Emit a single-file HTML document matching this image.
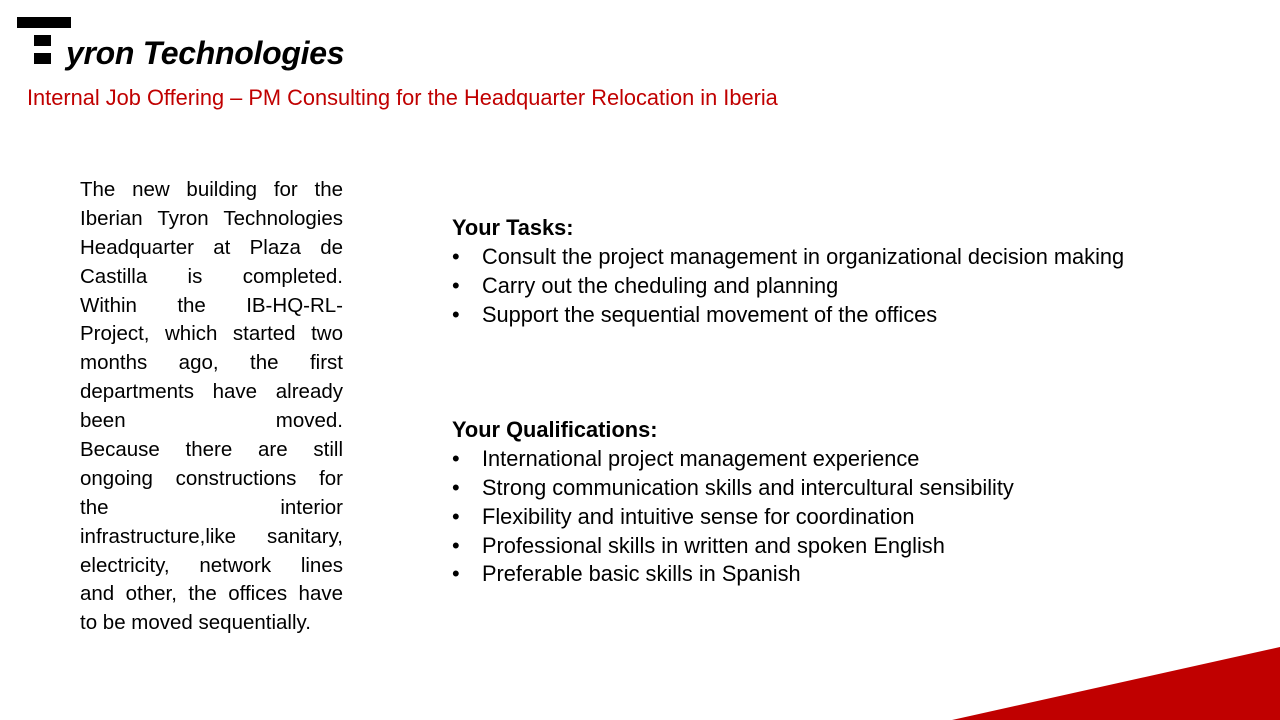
<!DOCTYPE html>
<html><head><meta charset="utf-8"><style>
body{margin:0;width:1280px;height:720px;background:#fff;position:relative;overflow:hidden;font-family:"Liberation Sans",sans-serif;}
.abs{position:absolute}
.para div{height:28.9px;line-height:28.9px;font-size:20.5px;text-align:justify;text-align-last:justify;white-space:nowrap;color:#000}
.para div.last{text-align-last:left}
.list{font-size:21.8px;color:#000}
.list div{height:28.9px;line-height:28.9px;position:relative;white-space:nowrap}
.list .b{position:absolute;left:0}
.list .t{position:absolute;left:30px}
</style></head><body>
<div class="abs" style="left:17px;top:17px;width:54px;height:11px;background:#000"></div>
<div class="abs" style="left:34px;top:35px;width:17px;height:11px;background:#000"></div>
<div class="abs" style="left:34px;top:53px;width:17px;height:11px;background:#000"></div>
<div class="abs" style="left:66px;top:33px;font-size:32px;font-weight:bold;font-style:italic;line-height:40px;color:#000;letter-spacing:-0.3px">yron Technologies</div>
<div class="abs" style="left:27px;top:84px;font-size:21.8px;line-height:28px;color:#c00000;white-space:nowrap">Internal Job Offering – PM Consulting for the Headquarter Relocation in Iberia</div>
<div class="abs para" style="left:80px;top:176px;width:263px">
<div>The new building for the</div>
<div>Iberian Tyron Technologies</div>
<div>Headquarter at Plaza de</div>
<div>Castilla is completed.</div>
<div>Within the IB-HQ-RL-</div>
<div>Project, which started two</div>
<div>months ago, the first</div>
<div>departments have already</div>
<div>been moved.</div>
<div>Because there are still</div>
<div>ongoing constructions for</div>
<div>the interior</div>
<div>infrastructure,like sanitary,</div>
<div>electricity, network lines</div>
<div>and other, the offices have</div>
<div class="last">to be moved sequentially.</div>
</div>
<div class="abs list" style="left:452px;top:214px;width:760px">
<div style="font-weight:bold">Your Tasks:</div>
<div><span class="b">•</span><span class="t">Consult the project management in organizational decision making</span></div>
<div><span class="b">•</span><span class="t">Carry out the cheduling and planning</span></div>
<div><span class="b">•</span><span class="t">Support the sequential movement of the offices</span></div>
</div>
<div class="abs list" style="left:452px;top:416px;width:760px">
<div style="font-weight:bold">Your Qualifications:</div>
<div><span class="b">•</span><span class="t">International project management experience</span></div>
<div><span class="b">•</span><span class="t">Strong communication skills and intercultural sensibility</span></div>
<div><span class="b">•</span><span class="t">Flexibility and intuitive sense for coordination</span></div>
<div><span class="b">•</span><span class="t">Professional skills in written and spoken English</span></div>
<div><span class="b">•</span><span class="t">Preferable basic skills in Spanish</span></div>
</div>
<svg class="abs" style="left:0;top:0" width="1280" height="720"><polygon points="952,720 1280,647 1280,720" fill="#c00000"/></svg>
</body></html>
